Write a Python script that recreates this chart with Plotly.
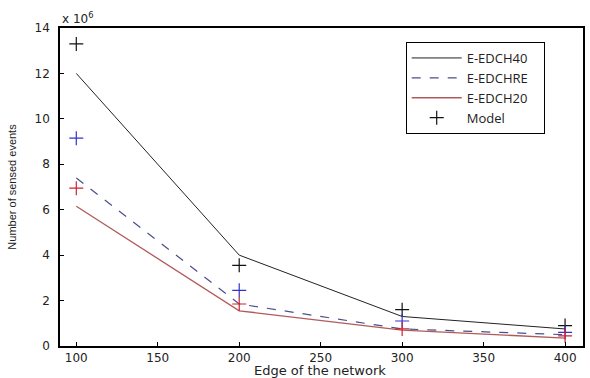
import plotly.graph_objects as go

edges = [100, 200, 300, 400]
edch40 = [12.0, 4.0, 1.3, 0.75]
edchre = [7.4, 1.85, 0.75, 0.5]
edch20 = [6.15, 1.55, 0.7, 0.35]
model40 = [13.3, 3.55, 1.6, 0.9]
modelre = [9.15, 2.45, 1.1, 0.6]
model20 = [6.95, 1.85, 0.75, 0.45]

x_ticks = [100, 150, 200, 250, 300, 350, 400]
y_ticks = [0, 2, 4, 6, 8, 10, 12, 14]

pad = "\u00a0" * 3

fig = go.Figure()
fig.add_trace(go.Scatter(x=edges, y=edch40, mode="lines", name="E-EDCH40" + pad,
                         line=dict(color="#222222", width=1)))
fig.add_trace(go.Scatter(x=edges, y=edchre, mode="lines", name="E-EDCHRE" + pad,
                         line=dict(color="#4a4f8a", width=1.2, dash="dash")))
fig.add_trace(go.Scatter(x=edges, y=edch20, mode="lines", name="E-EDCH20" + pad,
                         line=dict(color="#b05a5a", width=1.3)))
fig.add_trace(go.Scatter(x=edges, y=model40, mode="markers", name="Model" + pad,
                         marker=dict(symbol="cross-thin", size=10, color="#111111",
                                     line=dict(width=1.2, color="#111111"))))
fig.add_trace(go.Scatter(x=edges, y=modelre, mode="markers", showlegend=False,
                         marker=dict(symbol="cross-thin", size=10, color="#3333cc",
                                     line=dict(width=1.2, color="#3333cc"))))
fig.add_trace(go.Scatter(x=edges, y=model20, mode="markers", showlegend=False,
                         marker=dict(symbol="cross-thin", size=10, color="#cc2233",
                                     line=dict(width=1.2, color="#cc2233"))))

axis_common = dict(showline=True, linecolor="black", linewidth=1.5, mirror=True,
                   ticks="inside", ticklen=4, tickcolor="black", showgrid=False,
                   zeroline=False, automargin=False,
                   tickfont=dict(family="DejaVu Sans, Liberation Sans", size=12, color="#222222"))

fig.update_layout(
    width=590, height=378,
    margin=dict(l=60, r=7, t=28, b=32),
    paper_bgcolor="white", plot_bgcolor="white",
    xaxis=dict(range=[90, 411], tickvals=x_ticks, ticklabelstandoff=0, **axis_common),
    yaxis=dict(range=[0, 14], tickvals=y_ticks, ticklabelstandoff=6, **axis_common,
               title=dict(text="Number of sensed events", standoff=16,
                          font=dict(family="Liberation Sans, Arial", size=11, color="#222222"))),
    legend=dict(x=0.661, y=0.956, xanchor="left", yanchor="top",
                bgcolor="white", bordercolor="black", borderwidth=1,
                font=dict(family="Open Sans, Liberation Sans", size=13, color="#222222"),
                tracegroupgap=0, itemwidth=50),
    showlegend=True,
    annotations=[
        dict(text="x 10<sup>6</sup>", xref="paper", yref="paper", x=0.0, y=1.0,
             xanchor="left", yanchor="bottom", showarrow=False,
             font=dict(family="DejaVu Sans, Liberation Sans", size=12, color="#222222")),
        dict(text="Edge of the network", xref="paper", yref="paper", x=0.497, y=-0.0786,
             xanchor="center", yanchor="middle", showarrow=False, borderpad=0,
             font=dict(family="DejaVu Sans, Liberation Sans", size=13, color="#222222")),
    ],
)

fig.write_html("out.html")
